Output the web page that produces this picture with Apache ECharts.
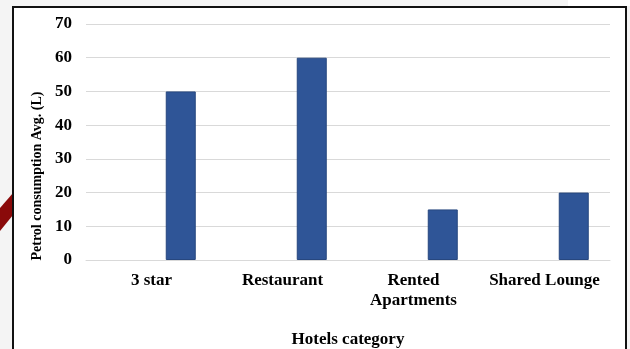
<!DOCTYPE html>
<html>
<head>
<meta charset="utf-8">
<script src="https://cdn.jsdelivr.net/npm/echarts@6/dist/echarts.min.js"></script>
<style>
  html, body { margin: 0; padding: 0; background: #f4f4f4; }
  #chart { width: 630px; height: 349px; }
</style>
</head>
<body>
<div id="chart"></div>
<script>
// Hotel categories and average petrol consumption (litres)
const categories = ['3 star', 'Restaurant', 'Rented\nApartments', 'Shared Lounge'];
const spacerSeries = [null, null, null, null];
const petrolAvg = [50, 60, 15, 20];
const yTicks = { min: 0, max: 70, interval: 10 };

const serif = '"Liberation Serif", "Times New Roman", serif';
const chart = echarts.init(document.getElementById('chart'), null, { renderer: 'canvas' });

chart.setOption({
  backgroundColor: '#f4f4f4',
  animation: false,
  graphic: [
    // white panel with dark frame
    { type: 'rect', z: -10, shape: { x: 13, y: 7, width: 613, height: 360 },
      style: { fill: '#ffffff', stroke: '#111111', lineWidth: 2 } },
    { type: 'rect', z: -11, shape: { x: 568, y: 0, width: 62, height: 6 },
      style: { fill: '#ffffff' } },
    // slide decoration peeking in at the left edge
    { type: 'polygon', z: -12, shape: { points: [[0, 208], [13, 193], [13, 215], [0, 231]] },
      style: { fill: '#8a0a0a' } },
    // y-axis title
    { type: 'text', x: 37, y: 176, rotation: Math.PI / 2,
      style: { text: 'Petrol consumption Avg. (L)', font: 'bold 14px ' + serif,
               fill: '#000000', align: 'center', verticalAlign: 'middle' } }
  ],
  grid: { left: 86, right: 20, top: 24, bottom: 89, outerBoundsMode: 'none', containLabel: false },
  xAxis: {
    type: 'category',
    data: categories,
    axisTick: { show: false },
    axisLine: { lineStyle: { color: '#d9d9d9', width: 1 } },
    axisLabel: { fontFamily: serif, fontWeight: 'bold', fontSize: 17, color: '#000',
                 margin: 11, lineHeight: 20, interval: 0 },
    name: 'Hotels category',
    nameLocation: 'middle',
    nameGap: 71,
    nameTextStyle: { fontFamily: serif, fontWeight: 'bold', fontSize: 17, color: '#000' }
  },
  yAxis: {
    type: 'value',
    min: yTicks.min, max: yTicks.max, interval: yTicks.interval,
    axisLine: { show: false },
    axisTick: { show: false },
    splitLine: { lineStyle: { color: '#d9d9d9', width: 1 } },
    axisLabel: { fontFamily: serif, fontWeight: 'bold', fontSize: 17, color: '#000', margin: 14 }
  },
  series: [
    { type: 'bar', data: spacerSeries, barWidth: 30, barGap: '95%' },
    { type: 'bar', data: petrolAvg, barWidth: 30, barGap: '95%',
      itemStyle: { color: '#2f5597', borderColor: '#27477f', borderWidth: 1 } }
  ]
});
</script>
</body>
</html>
